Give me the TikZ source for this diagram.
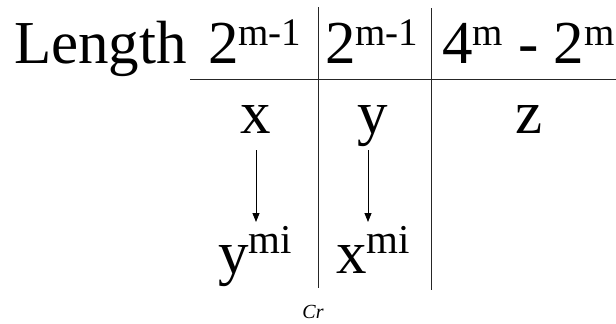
\documentclass[tikz,border=0pt]{standalone}
\usepackage{fontspec}
\setmainfont{Liberation Serif}
\usetikzlibrary{arrows.meta}
\newcommand\bigtxt{\fontsize{61}{63}\selectfont}
\newcommand\hsup[1]{\raisebox{18pt}{\fontsize{39}{39}\selectfont #1}}
\newcommand\lsup[1]{\raisebox{20pt}{\fontsize{41}{41}\selectfont #1}}
\begin{document}
\begin{tikzpicture}[x=1pt,y=-1pt,
  txt/.style={inner sep=0pt,outer sep=0pt,font=\bigtxt},
  rule/.style={line width=1pt,draw=black!85},
  arr/.style={line width=0.8pt,-{Triangle[length=9pt,width=7pt]}}]
\useasboundingbox (0,0) rectangle (616,324);
% header
\node[txt,anchor=base west] (len) at (14,63) {Length};
\node[txt,anchor=base west] (h1) at (208,63) {2\hsup{m-1}};
\node[txt,anchor=base west] (h2) at (325,63) {2\hsup{m-1}};
\node[txt,anchor=base west] (h3) at (442,63) {4\hsup{m} - 2\hsup{m}};
% rules
\draw[rule] (190,79) -- (616,79);
\draw[rule] (318,7) -- (318,288);
\draw[rule] (431,8) -- (431,290);
% row 2
\node[txt,anchor=base] (x) at (256,133) {x};
\node[txt,anchor=base] (y) at (373,133) {y};
\node[txt,anchor=base] (z) at (529,133) {z};
% row 3
\node[txt,anchor=base west] (ymi) at (218,273) {y\lsup{mi}};
\node[txt,anchor=base west] (xmi) at (336,273) {x\lsup{mi}};
\coordinate (xe) at (256,222);
\coordinate (ye) at (368,222);
\draw[arr] ([yshift=-17pt]x.base) -- (xe);
\draw[arr] ([xshift=-5pt,yshift=-17pt]y.base) -- (ye);
% caption
\node[inner sep=0pt,anchor=base,font=\fontsize{20}{21}\selectfont\itshape] (cr) at (313,318) {Cr};
\end{tikzpicture}
\end{document}
